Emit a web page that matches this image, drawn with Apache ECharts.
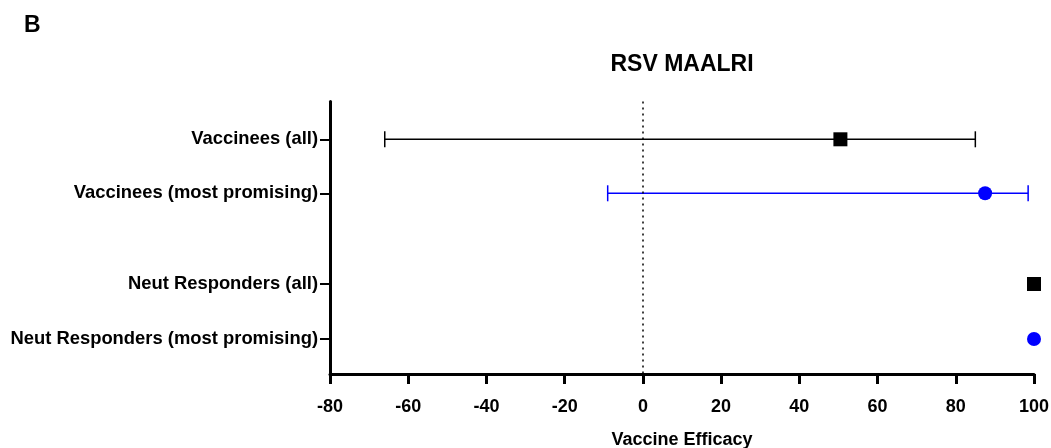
<!DOCTYPE html>
<html>
<head>
<meta charset="utf-8">
<script src="https://cdn.jsdelivr.net/npm/echarts@6/dist/echarts.min.js"></script>
<style>
html,body{margin:0;padding:0;background:#fff;}
#chart{width:1051px;height:448px;}
</style>
</head>
<body>
<div id="chart"></div>
<script>
// ---- data ----
var categories = ['Vaccinees (all)', 'Vaccinees (most promising)', 'Neut Responders (all)', 'Neut Responders (most promising)'];
var rowY = [1, 2, 3.68, 4.7];            // row slots on the y scale (gap between groups)
var estimates = [50.5, 87.5, 100, 100];
var lowerCI = [-66, -9, null, null];
var upperCI = [85, 98.5, null, null];
var groups = ['all', 'most promising', 'all', 'most promising'];
var xTicks = [-80, -60, -40, -20, 0, 20, 40, 60, 80, 100];

var groupColor = { 'all': '#000000', 'most promising': '#0000ff' };
var groupSymbol = { 'all': 'rect', 'most promising': 'circle' };
var FONT = '"Liberation Sans", Arial, Helvetica, sans-serif';

function pointsFor(g) {
  var out = [];
  for (var i = 0; i < categories.length; i++) {
    if (groups[i] === g) out.push([estimates[i], rowY[i]]);
  }
  return out;
}
var ciData = [];
for (var i = 0; i < categories.length; i++) {
  if (lowerCI[i] != null && upperCI[i] != null) {
    ciData.push([lowerCI[i], upperCI[i], rowY[i], i]);
  }
}

var chart = echarts.init(document.getElementById('chart'), null, { renderer: 'canvas' });
var option = {
  animation: false,
  backgroundColor: '#ffffff',
  title: [
    { text: 'B', left: 19, top: 9, textStyle: { fontFamily: FONT, fontWeight: 'bold', fontSize: 23, color: '#000' } },
    { text: 'RSV MAALRI', left: 677, top: 48, textAlign: 'center', textStyle: { fontFamily: FONT, fontWeight: 'bold', fontSize: 23, color: '#000' } }
  ],
  grid: { left: 330, right: 17, top: 101.5, bottom: 74, containLabel: false, outerBoundsMode: 'none' },
  xAxis: {
    type: 'value', min: xTicks[0], max: xTicks[xTicks.length - 1], interval: 20,
    name: 'Vaccine Efficacy', nameLocation: 'middle', nameGap: 57,
    nameTextStyle: { fontFamily: FONT, fontWeight: 'bold', fontSize: 18, color: '#000' },
    axisLine: { show: true, onZero: false, lineStyle: { color: '#000', width: 3 } },
    axisTick: { show: true, length: 10, lineStyle: { color: '#000', width: 3 } },
    axisLabel: { margin: 24, fontFamily: FONT, fontWeight: 'bold', fontSize: 18, color: '#000' },
    splitLine: { show: false }
  },
  yAxis: {
    type: 'value', inverse: true, min: 0.3, max: 5.347,
    axisLine: { show: true, onZero: false, lineStyle: { color: '#000', width: 3 } },
    axisTick: { show: true, length: 10, customValues: rowY, lineStyle: { color: '#000', width: 2 } },
    axisLabel: {
      margin: 12, customValues: rowY, fontFamily: FONT, fontWeight: 'bold', fontSize: 18.4, color: '#000',
      formatter: function (v) {
        for (var k = 0; k < rowY.length; k++) if (Math.abs(rowY[k] - v) < 1e-6) return categories[k];
        return '';
      }
    },
    splitLine: { show: false }
  },
  series: [
    {
      type: 'custom',
      name: 'CI',
      clip: false,
      data: ciData,
      renderItem: function (params, api) {
        var lo = api.coord([api.value(0), api.value(2)]);
        var hi = api.coord([api.value(1), api.value(2)]);
        var idx = api.value(3);
        var col = groupColor[groups[idx]];
        var h = 8;
        var st = { stroke: col, lineWidth: 1.5 };
        return {
          type: 'group',
          children: [
            { type: 'line', shape: { x1: lo[0], y1: lo[1], x2: hi[0], y2: hi[1] }, style: st },
            { type: 'line', shape: { x1: lo[0], y1: lo[1] - h, x2: lo[0], y2: lo[1] + h }, style: st },
            { type: 'line', shape: { x1: hi[0], y1: hi[1] - h, x2: hi[0], y2: hi[1] + h }, style: st }
          ]
        };
      },
      markLine: {
        silent: true, symbol: ['none', 'none'], label: { show: false },
        lineStyle: { color: '#000', width: 1.5, type: [2, 4], opacity: 1 },
        data: [{ xAxis: 0 }]
      },
      z: 2
    },
    {
      type: 'scatter', name: 'all', clip: false,
      symbol: groupSymbol['all'], symbolSize: 14,
      itemStyle: { color: groupColor['all'], opacity: 1 },
      data: pointsFor('all'), z: 3
    },
    {
      type: 'scatter', name: 'most promising', clip: false,
      symbol: groupSymbol['most promising'], symbolSize: 14,
      itemStyle: { color: groupColor['most promising'], opacity: 1 },
      data: pointsFor('most promising'), z: 3
    }
  ]
};
chart.setOption(option);
</script>
</body>
</html>
